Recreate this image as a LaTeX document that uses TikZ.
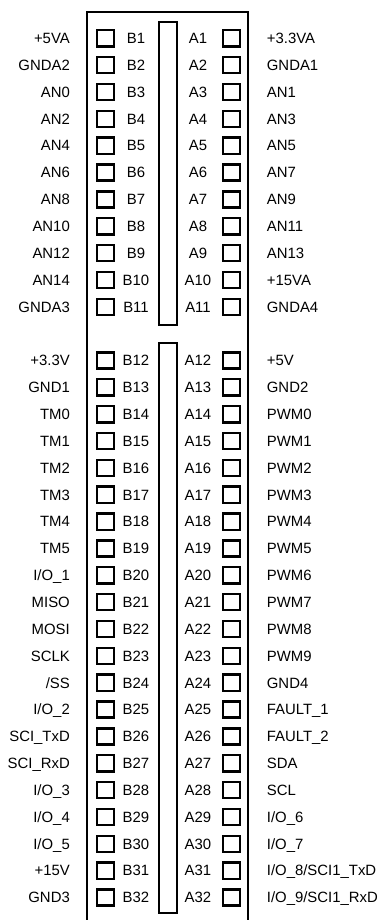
\documentclass[tikz,border=0pt]{standalone}
\usepackage{fontspec}
\setmainfont{Liberation Sans}
\begin{document}
\begin{tikzpicture}[x=1pt,y=-1pt,
  pinbox/.style={draw, line width=2.4pt, minimum width=16.8pt, minimum height=16.2pt, inner sep=0pt},
  lbl/.style={font=\fontsize{14.9}{17}\selectfont, inner sep=0pt},
  frame/.style={line width=2.1pt}]
\useasboundingbox (0,0) rectangle (379,920);
% outer housing (open at bottom)
\coordinate (obl) at (86.7,921);
\coordinate (otl) at (86.7,12);
\coordinate (otr) at (248.3,12);
\coordinate (obr) at (248.3,921);
\draw[frame] (obl) -- (otl) -- (otr) -- (obr);
% key slots
\coordinate (s1a) at (158.7,22);
\coordinate (s1b) at (177.3,325);
\coordinate (s2a) at (158.7,343);
\coordinate (s2b) at (177.3,913);
\draw[frame] (s1a) rectangle (s1b);
\draw[frame] (s2a) rectangle (s2b);
% B side
\foreach \t [count=\k] in {+5VA,GNDA2,AN0,AN2,AN4,AN6,AN8,AN10,AN12,AN14,GNDA3,
  +3.3V,GND1,TM0,TM1,TM2,TM3,TM4,TM5,I/O\_1,MISO,MOSI,SCLK,/SS,I/O\_2,SCI\_TxD,SCI\_RxD,
  I/O\_3,I/O\_4,I/O\_5,+15V,GND3} {
  \pgfmathsetmacro\yy{\k<12 ? 38.3+(\k-1)*26.85 : 38.3+\k*26.85}
  \node[pinbox] (bb\k) at (105.5,\yy) {};
  \node[lbl, anchor=base] (bn\k) at (136,\yy+5.3) {B\k};
  \node[lbl, anchor=base east] (bl\k) at (70,\yy+5.3) {\t};
}
% A side
\foreach \t [count=\k] in {+3.3VA,GNDA1,AN1,AN3,AN5,AN7,AN9,AN11,AN13,+15VA,GNDA4,
  +5V,GND2,PWM0,PWM1,PWM2,PWM3,PWM4,PWM5,PWM6,PWM7,PWM8,PWM9,GND4,FAULT\_1,FAULT\_2,
  SDA,SCL,I/O\_6,I/O\_7,I/O\_8/SCI1\_TxD,I/O\_9/SCI1\_RxD} {
  \pgfmathsetmacro\yy{\k<12 ? 38.3+(\k-1)*26.85 : 38.3+\k*26.85}
  \node[pinbox] (ab\k) at (231.5,\yy) {};
  \node[lbl, anchor=base] (an\k) at (198,\yy+5.3) {A\k};
  \node[lbl, anchor=base west] (al\k) at (266.7,\yy+5.3) {\t};
}
\end{tikzpicture}
\end{document}
